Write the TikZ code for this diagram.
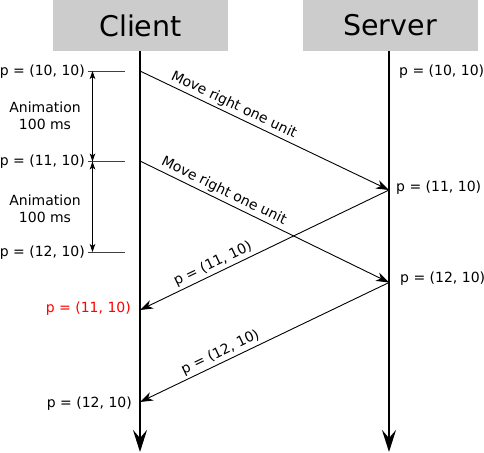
\documentclass[tikz,border=0pt]{standalone}
\usepackage{fontspec}
\setmainfont{DejaVu Sans}
\usetikzlibrary{arrows.meta}
\begin{document}
\begin{tikzpicture}[x=1pt,y=-1pt,
  header/.style={fill=black!20,draw=none,minimum width=175pt,minimum height=51pt,inner sep=0pt,font=\fontsize{28.5}{32}\selectfont},
  small/.style={font=\fontsize{14}{16.8}\selectfont,inner sep=0pt},
  lifeline/.style={line width=2pt,-{Stealth[length=22pt,width=14pt,inset=8pt]}},
  msg/.style={line width=0.9pt,-{Stealth[length=13pt,width=9pt,inset=4pt]}},
  msglabel/.style={font=\fontsize{14}{16.8}\selectfont,sloped,above,inner sep=2.5pt},
  tick/.style={line width=0.8pt,draw=black!75},
  dim/.style={line width=0.8pt,{Stealth[length=8pt,width=5.5pt,inset=2pt]}-{Stealth[length=8pt,width=5.5pt,inset=2pt]}}
]
\useasboundingbox (0,0) rectangle (484,452);
% headers
\node[header] (client) at (140.5,25.5) {Client};
\node[header] (server) at (390,25.5) {Server};
% lifeline coordinates
\coordinate (cTop) at (140,51);
\coordinate (cEnd) at (140,452);
\coordinate (sTop) at (389,51);
\coordinate (sEnd) at (389,452);
\coordinate (c1) at (140,71);
\coordinate (c2) at (140,161);
\coordinate (c3) at (140,310);
\coordinate (c4) at (140,402);
\coordinate (s1) at (389,190);
\coordinate (s2) at (389,282.5);
\draw[lifeline] (cTop) -- (cEnd);
\draw[lifeline] (sTop) -- (sEnd);
% messages
\draw[msg] (c1) -- node[msglabel,pos=0.36] {Move right one unit} (s1);
\draw[msg] (c2) -- node[msglabel,pos=0.32] {Move right one unit} (s2);
\draw[msg] (s1) -- node[msglabel,pos=0.69] {p = (11, 10)} (c3);
\draw[msg] (s2) -- node[msglabel,pos=0.66] {p = (12, 10)} (c4);
% left ticks and dimension arrows
\coordinate (t1a) at (88,71);  \coordinate (t1b) at (125,71);
\coordinate (t2a) at (88,161.5); \coordinate (t2b) at (125,161.5);
\coordinate (t3a) at (88,252); \coordinate (t3b) at (125,252);
\coordinate (d1) at (92.5,71); \coordinate (d2) at (92.5,161.5); \coordinate (d3) at (92.5,252);
\draw[tick] (t1a) -- (t1b);
\draw[line width=1.8pt,draw=black!75] (t2a) -- (t2b);
\draw[tick] (t3a) -- (t3b);
\draw[dim] (d1) -- (d2);
\draw[dim] (d2) -- (d3);
% left labels
\node[small,anchor=east] (l1) at (85,72) {p = (10, 10)};
\node[small,anchor=east] (l2) at (85,162) {p = (11, 10)};
\node[small,anchor=east] (l3) at (85,253) {p = (12, 10)};
\node[small,align=center] (a1) at (45,116) {Animation\\100 ms};
\node[small,align=center] (a2) at (45,209) {Animation\\100 ms};
% client side labels
\node[small,anchor=east,text=red] (cl1) at (131,309) {p = (11, 10)};
\node[small,anchor=east] (cl2) at (132,404) {p = (12, 10)};
% server side labels
\node[small,anchor=west] (sl1) at (399,72) {p = (10, 10)};
\node[small,anchor=west] (sl2) at (396,188) {p = (11, 10)};
\node[small,anchor=west] (sl3) at (400,279) {p = (12, 10)};
\end{tikzpicture}
\end{document}
